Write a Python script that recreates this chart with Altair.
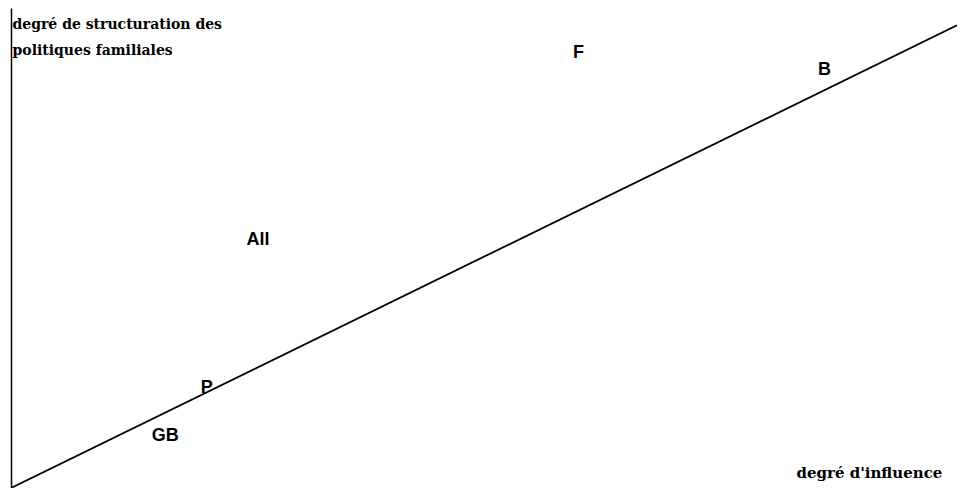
import altair as alt
import pandas as pd

# Country labels and their positions (influence, structuration) on a 0-100 scale
countries = ["GB", "P", "All", "F", "B"]
influence = [16.3, 20.7, 26.1, 60.0, 86.0]
structuration = [10.9, 20.8, 51.7, 90.6, 87.1]

# Diagonal reference line
trend_x = [0, 100]
trend_y = [0, 96.4]

x_title = "degré d'influence"
y_title = ["degré de structuration des", "politiques familiales"]

xs = alt.Scale(domain=[0, 100], nice=False, zero=False)
ys = alt.Scale(domain=[0, 100], nice=False, zero=False)

line = alt.Chart(pd.DataFrame({"x": trend_x, "y": trend_y})).mark_line(
    color="black", strokeWidth=1.8
).encode(
    x=alt.X("x:Q", scale=xs, axis=alt.Axis(
        title=x_title, domain=False, ticks=False, labels=False, grid=False,
        titleX=785, titleY=-11, titleAlign="left", titleBaseline="alphabetic",
        titleFont="DejaVu Serif", titleFontSize=15, titleFontWeight="bold",
        titleColor="black")),
    y=alt.Y("y:Q", scale=ys, axis=alt.Axis(
        title=y_title, domain=True, domainColor="black", domainWidth=1.5,
        ticks=False, labels=False, grid=False, titleAngle=0, titleX=1, titleY=20,
        titleAlign="left", titleBaseline="alphabetic", titleLineHeight=26,
        titleFont="DejaVu Serif", titleFontSize=14, titleFontWeight="bold",
        titleColor="black")),
)

labels = alt.Chart(pd.DataFrame({"c": countries, "x": influence, "y": structuration})).mark_text(
    font="Liberation Sans", fontWeight="bold", fontSize=18, align="center",
    baseline="middle", color="black"
).encode(
    x=alt.X("x:Q", scale=xs),
    y=alt.Y("y:Q", scale=ys),
    text="c:N",
)

chart = alt.layer(line, labels).properties(
    width=946, height=480,
    autosize=alt.AutoSizeParams(type="none"),
    padding={"left": 3, "top": 0, "right": 0, "bottom": 0},
    background="white",
).configure_view(stroke=None)

chart.save("out.html", embed_options={"renderer": "svg", "actions": False})
